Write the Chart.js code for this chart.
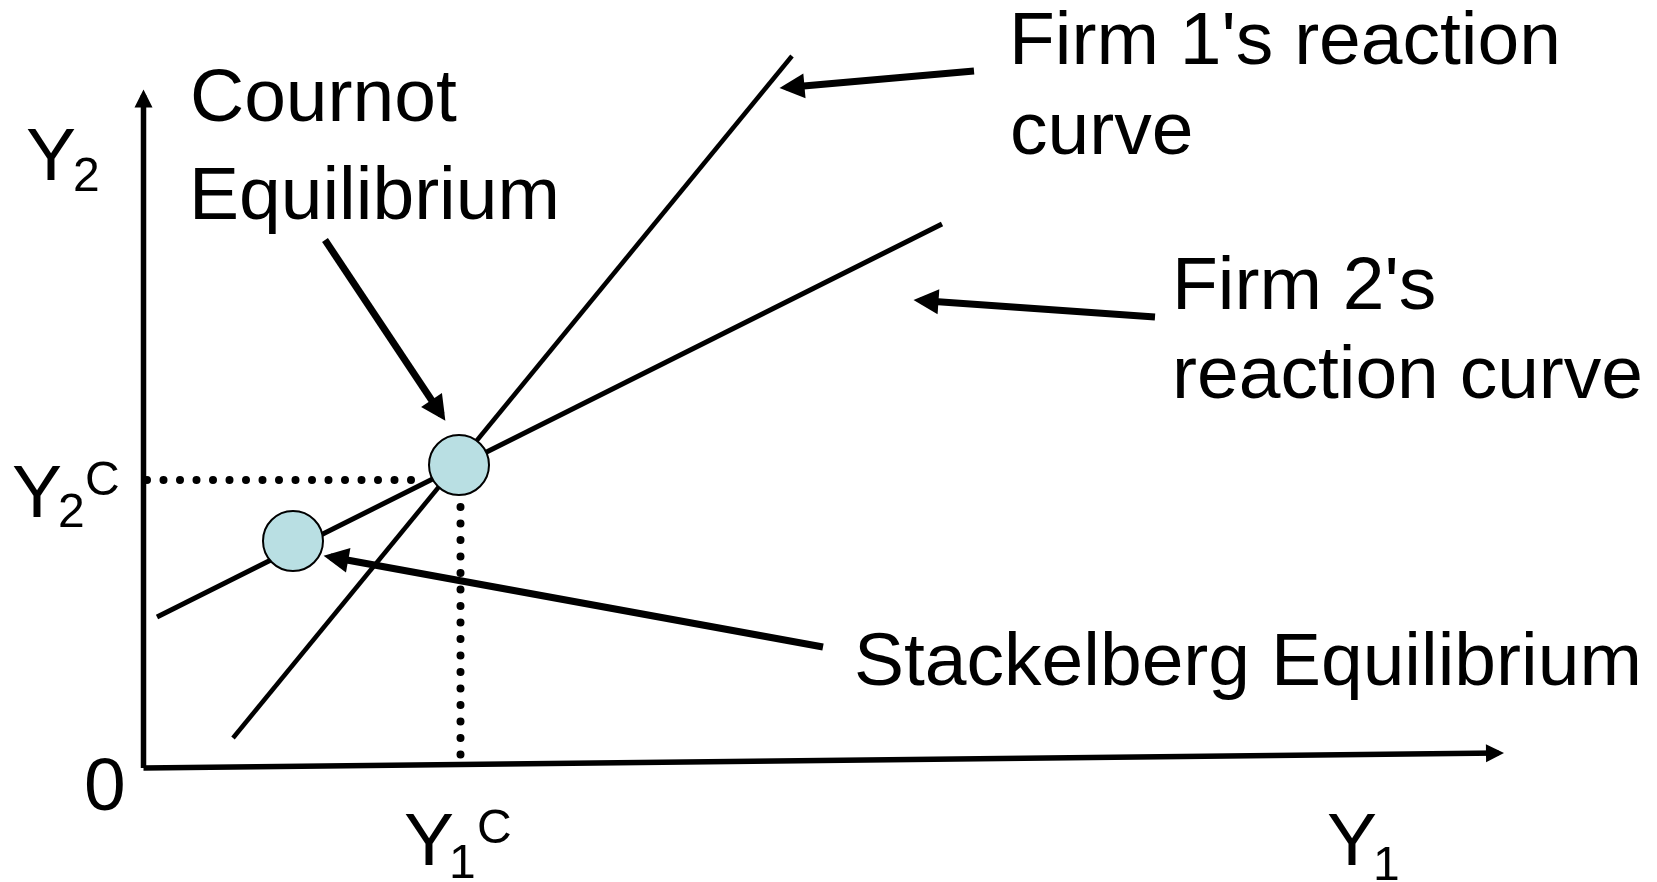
<!DOCTYPE html>
<html>
<head>
<meta charset="utf-8">
<script src="https://cdn.jsdelivr.net/npm/chart.js@4.4.0/dist/chart.umd.min.js"></script>
<style>
    html, body { margin: 0; padding: 0; background: #fff; }
    #wrap { width: 1657px; height: 882px; position: relative; }
</style>
</head>
<body>
<div id="wrap"><canvas id="grafico"></canvas></div>
<script>
// Unidades do gráfico: 1 unidade = 10 px, origem no cruzamento dos eixos
const eixoY2       = [{ x: 0, y: 0 }, { x: 0, y: 67.3 }];
const eixoY1       = [{ x: 0, y: 0 }, { x: 135.5, y: 1.5 }];
const reacaoFirma1 = [{ x: 8.95, y: 3.0 }, { x: 64.85, y: 71.2 }];
const reacaoFirma2 = [{ x: 1.35, y: 15.1 }, { x: 79.85, y: 54.4 }];
const cournot      = [{ x: 31.55, y: 30.3 }];
const stackelberg  = [{ x: 14.95, y: 22.7 }];

const y1c = 31.7;
const y2c = 28.8;
const guiaHorizontal = [{ x: 0.35, y: y2c }, { x: 27.8, y: y2c }];
const guiaVertical   = [{ x: y1c, y: 26.1 }, { x: y1c, y: 0 }];

// setas: [cauda, ponta]
const setaCournot     = [{ x: 18.15, y: 52.8 }, { x: 29.8, y: 35.3 }];
const setaFirma1      = [{ x: 83.05, y: 69.7 }, { x: 64.3, y: 68.05 }];
const setaFirma2      = [{ x: 101.15, y: 45.1 }, { x: 77.7, y: 46.75 }];
const setaStackelberg = [{ x: 67.95, y: 12.1 }, { x: 18.7, y: 21.1 }];

// textos
const textoCournot     = ['Cournot', 'Equilibrium'];
const textoFirma1      = ["Firm 1's reaction", 'curve'];
const textoFirma2      = ["Firm 2's", 'reaction curve'];
const textoStackelberg = ['Stackelberg Equilibrium'];
const rotuloOrigem     = '0';

const FONTE = '"Liberation Sans", Arial, sans-serif';

// posições dos textos em px (esquerda, linha de base, tamanho)
const rotulos = [
    { t: textoCournot[0],     x: 190,  y: 121, s: 75 },
    { t: textoCournot[1],     x: 189,  y: 219, s: 75 },
    { t: textoFirma1[0],      x: 1009, y: 64,  s: 75 },
    { t: textoFirma1[1],      x: 1010, y: 154, s: 75 },
    { t: textoFirma2[0],      x: 1172, y: 309, s: 75 },
    { t: textoFirma2[1],      x: 1172, y: 398, s: 75 },
    { t: textoStackelberg[0], x: 854,  y: 685, s: 75 },
    { t: rotuloOrigem,        x: 84,   y: 810, s: 75 },
    // Y2 (eixo)
    { t: 'Y', x: 26,   y: 180, s: 75 }, { t: '2', x: 73,  y: 191, s: 48 },
    // Y2^C
    { t: 'Y', x: 12,   y: 517, s: 75 }, { t: '2', x: 58,  y: 527, s: 48 }, { t: 'C', x: 85,  y: 495, s: 48 },
    // Y1^C
    { t: 'Y', x: 404,  y: 865, s: 75 }, { t: '1', x: 449, y: 878, s: 48 }, { t: 'C', x: 477, y: 843, s: 48 },
    // Y1 (eixo)
    { t: 'Y', x: 1327, y: 865, s: 75 }, { t: '1', x: 1373, y: 880, s: 48 }
];

const linha = (data, largura, extra = {}) => ({
    type: 'line', data, borderColor: '#000', borderWidth: largura,
    pointRadius: 0, tension: 0, fill: false, order: 2, ...extra
});

// desenha pontas de seta no último ponto dos datasets marcados
const pluginSetas = {
    id: 'setas',
    afterDatasetsDraw(chart) {
        const ctx = chart.ctx;
        chart.data.datasets.forEach((ds, i) => {
            if (!ds.seta) return;
            const pts = chart.getDatasetMeta(i).data;
            const a = pts[pts.length - 2], b = pts[pts.length - 1];
            const ang = Math.atan2(b.y - a.y, b.x - a.x);
            const { comp, larg } = ds.seta;
            // ponta avança a largura da linha para cobrir o fim reto
            const tx = b.x + Math.cos(ang) * ds.borderWidth;
            const ty = b.y + Math.sin(ang) * ds.borderWidth;
            ctx.save();
            ctx.fillStyle = '#000';
            ctx.beginPath();
            ctx.moveTo(tx, ty);
            ctx.lineTo(tx - comp * Math.cos(ang) + larg * Math.sin(ang), ty - comp * Math.sin(ang) - larg * Math.cos(ang));
            ctx.lineTo(tx - comp * Math.cos(ang) - larg * Math.sin(ang), ty - comp * Math.sin(ang) + larg * Math.cos(ang));
            ctx.closePath();
            ctx.fill();
            ctx.restore();
        });
    }
};

const pluginTextos = {
    id: 'textos',
    afterDraw(chart) {
        const ctx = chart.ctx;
        ctx.save();
        ctx.fillStyle = '#000';
        ctx.textBaseline = 'alphabetic';
        ctx.textAlign = 'left';
        rotulos.forEach(r => {
            ctx.font = `${r.s}px ${FONTE}`;
            ctx.fillText(r.t, r.x, r.y);
        });
        ctx.restore();
    }
};

new Chart(document.getElementById('grafico'), {
    type: 'scatter',
    data: {
        datasets: [
            { data: cournot,     pointRadius: 30, pointBackgroundColor: '#B9DFE3', pointBorderColor: '#000', pointBorderWidth: 2, showLine: false, order: 0 },
            { data: stackelberg, pointRadius: 30, pointBackgroundColor: '#B9DFE3', pointBorderColor: '#000', pointBorderWidth: 2, showLine: false, order: 0 },
            linha(eixoY2, 5.5, { seta: { comp: 18, larg: 9 } }),
            linha(eixoY1, 5.5, { seta: { comp: 18, larg: 9 } }),
            linha(reacaoFirma1, 4.5),
            linha(reacaoFirma2, 5),
            linha(guiaHorizontal, 8, { borderDash: [0, 16.5], borderCapStyle: 'round', order: 3 }),
            linha(guiaVertical,   8, { borderDash: [0, 16.5], borderCapStyle: 'round', order: 3 }),
            linha(setaCournot,     7, { seta: { comp: 25, larg: 12.5 }, order: 1 }),
            linha(setaFirma1,      7, { seta: { comp: 25, larg: 12.5 }, order: 1 }),
            linha(setaFirma2,      7, { seta: { comp: 25, larg: 12.5 }, order: 1 }),
            linha(setaStackelberg, 7, { seta: { comp: 25, larg: 12.5 }, order: 1 })
        ]
    },
    options: {
        responsive: true,
        maintainAspectRatio: false,
        animation: false,
        events: [],
        layout: { padding: 0, autoPadding: false },
        plugins: { legend: { display: false }, tooltip: { enabled: false } },
        scales: {
            x: { type: 'linear', display: false, min: -14.35, max: 151.35 },
            y: { type: 'linear', display: false, min: -11.4,  max: 76.8 }
        }
    },
    plugins: [pluginSetas, pluginTextos]
});
</script>
</body>
</html>
